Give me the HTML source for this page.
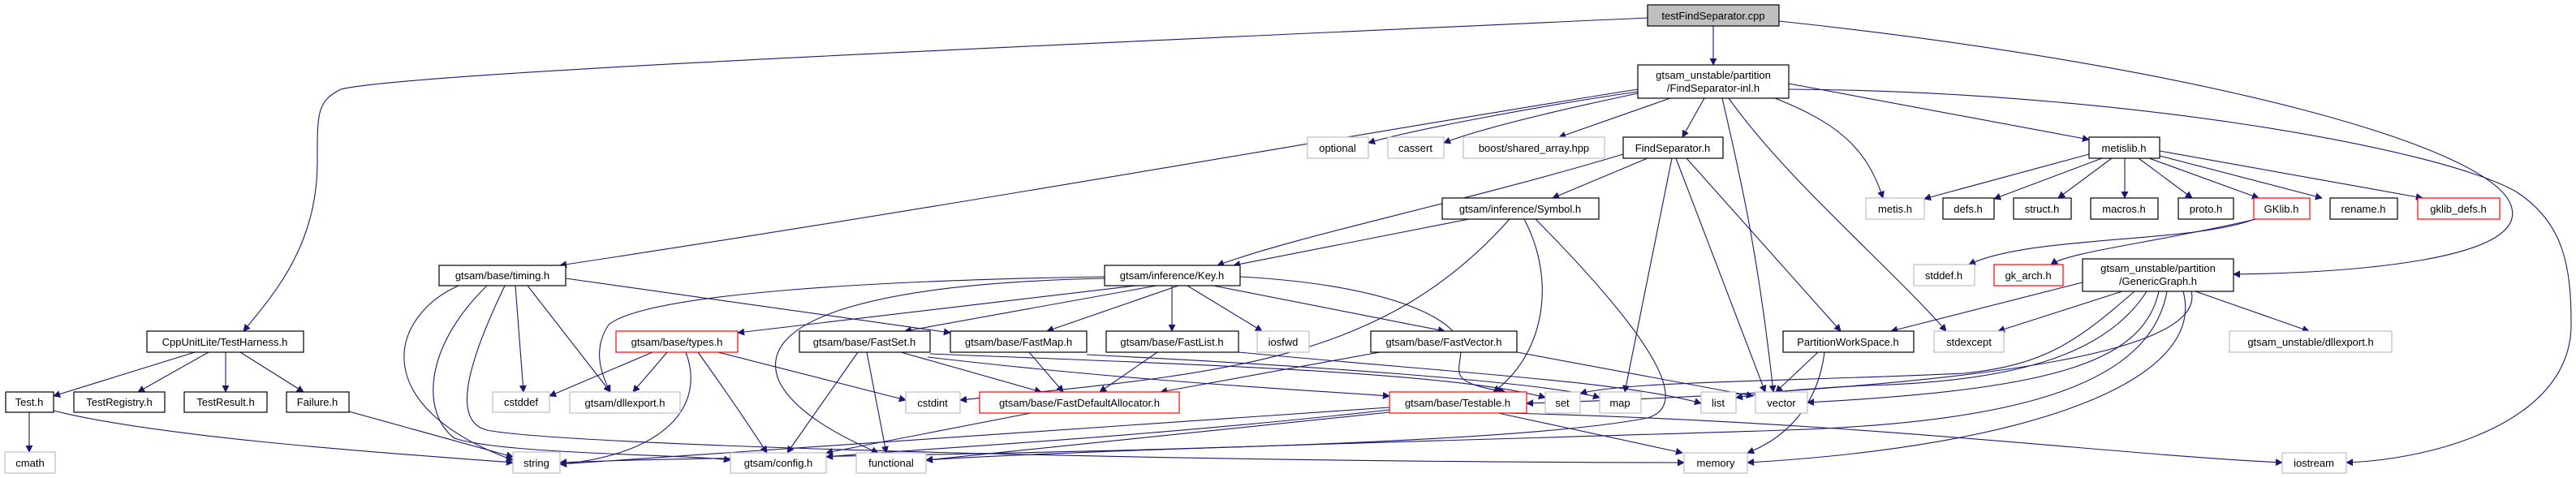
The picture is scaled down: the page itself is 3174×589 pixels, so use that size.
<!DOCTYPE html>
<html><head><meta charset="utf-8"><style>
html,body{margin:0;padding:0;background:#fff;}
svg{display:block;}
text{font-family:"Liberation Sans",sans-serif;font-size:13px;fill:#000;}
.n{fill:#fff;stroke:#000;stroke-width:1.2;}
.g{fill:#fff;stroke:#bfbfbf;stroke-width:1.2;}
.r{fill:#fff;stroke:#ff0000;stroke-width:1.2;}
.e{fill:none;stroke:#191970;stroke-width:1.1;marker-end:url(#a);}
</style></head><body>
<svg width="3174" height="589" viewBox="0 0 3174 589" xmlns="http://www.w3.org/2000/svg">
<defs><marker id="a" viewBox="0 0 10 10" refX="9" refY="5" markerWidth="9" markerHeight="9" markerUnits="userSpaceOnUse" orient="auto"><path d="M0,0L10,5L0,10z" fill="#191970"/></marker></defs>
<g>
<path class="e" d="M2111,32 L2111,80"/>
<path class="e" d="M2030,22 C1200,60 500,90 420,110 C390,125 391,140 391,200 C391,300 340,360 300,408"/>
<path class="e" d="M2192,26 C2700,80 3080,180 3095,257 C3110,320 2900,336 2752,338"/>
<path class="e" d="M2018,113 C1900,130 1740,160 1686,176"/>
<path class="e" d="M2018,115 C1900,140 1820,160 1779,176"/>
<path class="e" d="M2058,121 L1921,169"/>
<path class="e" d="M2100,121 L2073,169"/>
<path class="e" d="M2018,110 C1700,160 1200,250 690,327"/>
<path class="e" d="M2204,110 C2600,112 3000,180 3100,236 C3160,275 3168,330 3168,400 C3168,520 3000,566 2891,570"/>
<path class="e" d="M2204,103 L2574,172"/>
<path class="e" d="M2187,121 C2260,150 2300,180 2320,244"/>
<path class="e" d="M2122,121 C2140,200 2165,300 2185,483"/>
<path class="e" d="M2130,121 C2200,220 2330,330 2398,408"/>
<path class="e" d="M2000,190 C1800,250 1600,290 1500,327"/>
<path class="e" d="M2030,195 L1913,244"/>
<path class="e" d="M2060,195 L2002,483"/>
<path class="e" d="M2065,195 L2175,483"/>
<path class="e" d="M2078,195 L2268,408"/>
<path class="e" d="M1810,270 L1520,327"/>
<path class="e" d="M1860,270 C1700,450 1500,460 1183,493"/>
<path class="e" d="M1878,270 C1920,350 1900,440 1840,483"/>
<path class="e" d="M1892,270 C2050,430 2080,500 2030,515 C1800,560 900,560 690,570"/>
<path class="e" d="M1400,352 L909,410"/>
<path class="e" d="M1425,352 L1115,408"/>
<path class="e" d="M1452,352 L1290,408"/>
<path class="e" d="M1444,352 L1444,408"/>
<path class="e" d="M1463,352 L1555,408"/>
<path class="e" d="M1495,352 L1780,408"/>
<path class="e" d="M1528,341 C1700,350 1800,390 1800,430 C1800,460 1780,470 1855,483"/>
<path class="e" d="M1361,341 C1100,345 800,360 750,400 C730,430 740,460 752,483"/>
<path class="e" d="M1361,343 C1050,350 930,400 960,470 C980,510 1040,540 1082,558"/>
<path class="e" d="M565,352 C480,390 450,500 632,567"/>
<path class="e" d="M600,352 C520,430 520,510 560,540 C620,560 850,560 900,567"/>
<path class="e" d="M622,352 C570,460 560,520 600,530 C700,550 1500,570 2075,570"/>
<path class="e" d="M635,352 L645,483"/>
<path class="e" d="M650,352 L752,483"/>
<path class="e" d="M697,343 L1171,410"/>
<path class="e" d="M240,434 L66,488"/>
<path class="e" d="M257,434 L170,483"/>
<path class="e" d="M278,434 L278,483"/>
<path class="e" d="M296,434 L374,483"/>
<path class="e" d="M36,508 L36,557"/>
<path class="e" d="M66,506 C200,540 500,560 632,570"/>
<path class="e" d="M430,507 L632,563"/>
<path class="e" d="M804,434 L677,488"/>
<path class="e" d="M822,434 L780,483"/>
<path class="e" d="M845,434 C870,500 820,560 690,572"/>
<path class="e" d="M860,434 C900,490 920,520 945,558"/>
<path class="e" d="M885,434 L1116,493"/>
<path class="e" d="M1057,434 L970,558"/>
<path class="e" d="M1068,434 L1092,558"/>
<path class="e" d="M1110,434 L1283,483"/>
<path class="e" d="M1146,436 C1500,450 1800,460 1904,490"/>
<path class="e" d="M1143,440 C1400,470 1600,480 1712,488"/>
<path class="e" d="M1268,434 L1310,483"/>
<path class="e" d="M1339,437 C1600,450 1900,470 1971,490"/>
<path class="e" d="M1426,434 L1355,483"/>
<path class="e" d="M1526,434 C1800,460 2000,470 2096,497"/>
<path class="e" d="M1700,434 L1430,483"/>
<path class="e" d="M1869,434 L2160,488"/>
<path class="e" d="M1270,509 L1018,558"/>
<path class="e" d="M1712,502 C1300,530 900,560 690,572"/>
<path class="e" d="M1712,505 C1400,540 1100,555 1018,563"/>
<path class="e" d="M1846,509 L2073,558"/>
<path class="e" d="M1856,509 C2300,520 2600,560 2812,570"/>
<path class="e" d="M1712,508 C1400,540 1200,560 1141,567"/>
<path class="e" d="M2240,434 L2188,483"/>
<path class="e" d="M2248,434 C2240,500 2200,540 2153,558"/>
<path class="e" d="M2566,348 L2330,408"/>
<path class="e" d="M2615,359 L2462,408"/>
<path class="e" d="M2630,359 C2560,420 2520,450 2420,460 C2200,470 2000,470 1947,485"/>
<path class="e" d="M2645,359 C2600,430 2500,470 2300,475 C2200,480 2170,485 2139,490"/>
<path class="e" d="M2660,359 C2640,450 2520,480 2227,496"/>
<path class="e" d="M2670,359 C2650,470 2500,520 2200,530 C1900,540 1300,555 1141,567"/>
<path class="e" d="M2690,359 C2720,470 2500,550 2153,570"/>
<path class="e" d="M2700,359 C2720,440 2400,480 1881,497"/>
<path class="e" d="M2705,359 L2845,408"/>
<path class="e" d="M2574,190 L2371,245"/>
<path class="e" d="M2590,195 L2457,245"/>
<path class="e" d="M2602,195 L2536,244"/>
<path class="e" d="M2618,195 L2618,244"/>
<path class="e" d="M2635,195 L2701,244"/>
<path class="e" d="M2648,195 L2783,244"/>
<path class="e" d="M2661,192 L2861,244"/>
<path class="e" d="M2661,186 L2985,244"/>
<path class="e" d="M2778,270 C2700,300 2500,290 2426,326"/>
<path class="e" d="M2780,270 C2650,300 2550,310 2527,326"/>
</g>
<g>
<rect x="2030" y="6" width="162" height="26" fill="#bfbfbf" stroke="#000" stroke-width="1.2"/><text x="2111" y="24" text-anchor="middle">testFindSeparator.cpp</text>
<rect class="n" x="2018" y="80" width="186" height="41"/><text x="2111" y="97" text-anchor="middle">gtsam_unstable/partition</text><text x="2111" y="113" text-anchor="middle">/FindSeparator-inl.h</text>
<rect class="g" x="1611" y="169" width="75" height="26"/><text x="1648" y="187" text-anchor="middle">optional</text>
<rect class="g" x="1710" y="169" width="69" height="26"/><text x="1744" y="187" text-anchor="middle">cassert</text>
<rect class="g" x="1803" y="169" width="174" height="26"/><text x="1890" y="187" text-anchor="middle">boost/shared_array.hpp</text>
<rect class="n" x="2000" y="169" width="123" height="26"/><text x="2061" y="187" text-anchor="middle">FindSeparator.h</text>
<rect class="n" x="2574" y="169" width="87" height="26"/><text x="2617" y="187" text-anchor="middle">metislib.h</text>
<rect class="n" x="1777" y="244" width="193" height="26"/><text x="1873" y="262" text-anchor="middle">gtsam/inference/Symbol.h</text>
<rect class="g" x="2299" y="244" width="72" height="26"/><text x="2335" y="262" text-anchor="middle">metis.h</text>
<rect class="n" x="2394" y="244" width="63" height="26"/><text x="2425" y="262" text-anchor="middle">defs.h</text>
<rect class="n" x="2481" y="244" width="71" height="26"/><text x="2516" y="262" text-anchor="middle">struct.h</text>
<rect class="n" x="2576" y="244" width="83" height="26"/><text x="2617" y="262" text-anchor="middle">macros.h</text>
<rect class="n" x="2684" y="244" width="68" height="26"/><text x="2718" y="262" text-anchor="middle">proto.h</text>
<rect class="r" x="2777" y="244" width="69" height="26"/><text x="2811" y="262" text-anchor="middle">GKlib.h</text>
<rect class="n" x="2871" y="244" width="83" height="26"/><text x="2912" y="262" text-anchor="middle">rename.h</text>
<rect class="r" x="2979" y="244" width="101" height="26"/><text x="3029" y="262" text-anchor="middle">gklib_defs.h</text>
<rect class="n" x="541" y="327" width="156" height="25"/><text x="619" y="344" text-anchor="middle">gtsam/base/timing.h</text>
<rect class="n" x="1361" y="327" width="167" height="25"/><text x="1444" y="344" text-anchor="middle">gtsam/inference/Key.h</text>
<rect class="g" x="2358" y="326" width="75" height="26"/><text x="2395" y="344" text-anchor="middle">stddef.h</text>
<rect class="r" x="2457" y="326" width="85" height="26"/><text x="2499" y="344" text-anchor="middle">gk_arch.h</text>
<rect class="n" x="2566" y="319" width="186" height="40"/><text x="2659" y="335" text-anchor="middle">gtsam_unstable/partition</text><text x="2659" y="351" text-anchor="middle">/GenericGraph.h</text>
<rect class="n" x="181" y="408" width="193" height="26"/><text x="277" y="426" text-anchor="middle">CppUnitLite/TestHarness.h</text>
<rect class="r" x="759" y="408" width="150" height="26"/><text x="834" y="426" text-anchor="middle">gtsam/base/types.h</text>
<rect class="n" x="985" y="408" width="161" height="26"/><text x="1065" y="426" text-anchor="middle">gtsam/base/FastSet.h</text>
<rect class="n" x="1171" y="408" width="168" height="26"/><text x="1255" y="426" text-anchor="middle">gtsam/base/FastMap.h</text>
<rect class="n" x="1363" y="408" width="163" height="26"/><text x="1444" y="426" text-anchor="middle">gtsam/base/FastList.h</text>
<rect class="g" x="1549" y="408" width="64" height="26"/><text x="1581" y="426" text-anchor="middle">iosfwd</text>
<rect class="n" x="1689" y="408" width="180" height="26"/><text x="1779" y="426" text-anchor="middle">gtsam/base/FastVector.h</text>
<rect class="n" x="2197" y="408" width="161" height="26"/><text x="2277" y="426" text-anchor="middle">PartitionWorkSpace.h</text>
<rect class="g" x="2383" y="408" width="86" height="26"/><text x="2426" y="426" text-anchor="middle">stdexcept</text>
<rect class="g" x="2747" y="408" width="200" height="26"/><text x="2847" y="426" text-anchor="middle">gtsam_unstable/dllexport.h</text>
<rect class="n" x="7" y="483" width="59" height="25"/><text x="36" y="500" text-anchor="middle">Test.h</text>
<rect class="n" x="91" y="483" width="112" height="25"/><text x="147" y="500" text-anchor="middle">TestRegistry.h</text>
<rect class="n" x="227" y="483" width="102" height="25"/><text x="278" y="500" text-anchor="middle">TestResult.h</text>
<rect class="n" x="353" y="483" width="77" height="25"/><text x="391" y="500" text-anchor="middle">Failure.h</text>
<rect class="g" x="607" y="483" width="70" height="25"/><text x="642" y="500" text-anchor="middle">cstddef</text>
<rect class="g" x="702" y="483" width="136" height="26"/><text x="770" y="501" text-anchor="middle">gtsam/dllexport.h</text>
<rect class="g" x="1116" y="483" width="67" height="26"/><text x="1149" y="501" text-anchor="middle">cstdint</text>
<rect class="r" x="1207" y="483" width="246" height="26"/><text x="1330" y="501" text-anchor="middle">gtsam/base/FastDefaultAllocator.h</text>
<rect class="r" x="1712" y="483" width="169" height="26"/><text x="1796" y="501" text-anchor="middle">gtsam/base/Testable.h</text>
<rect class="g" x="1904" y="483" width="43" height="26"/><text x="1925" y="501" text-anchor="middle">set</text>
<rect class="g" x="1971" y="483" width="51" height="26"/><text x="1996" y="501" text-anchor="middle">map</text>
<rect class="g" x="2096" y="483" width="43" height="26"/><text x="2117" y="501" text-anchor="middle">list</text>
<rect class="g" x="2163" y="483" width="64" height="26"/><text x="2195" y="501" text-anchor="middle">vector</text>
<rect class="g" x="6" y="557" width="62" height="26"/><text x="37" y="575" text-anchor="middle">cmath</text>
<rect class="g" x="632" y="557" width="58" height="26"/><text x="661" y="575" text-anchor="middle">string</text>
<rect class="g" x="900" y="558" width="118" height="25"/><text x="959" y="575" text-anchor="middle">gtsam/config.h</text>
<rect class="g" x="1055" y="558" width="86" height="25"/><text x="1098" y="575" text-anchor="middle">functional</text>
<rect class="g" x="2075" y="558" width="78" height="25"/><text x="2114" y="575" text-anchor="middle">memory</text>
<rect class="g" x="2812" y="558" width="79" height="25"/><text x="2851" y="575" text-anchor="middle">iostream</text>
</g>
</svg>
</body></html>
